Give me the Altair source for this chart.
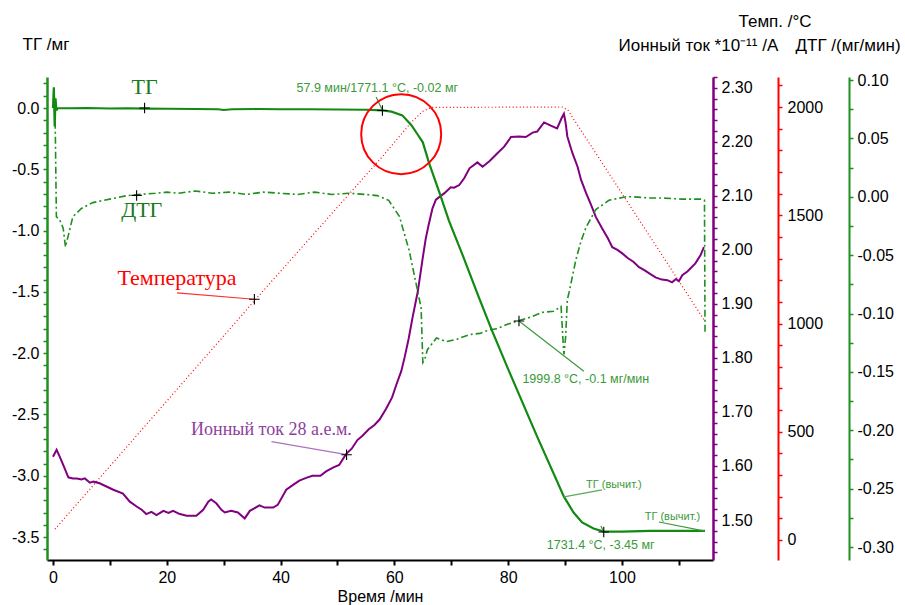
import altair as alt
import pandas as pd
import numpy as np

# ---------------- data ----------------
# TG (mg) vs time (min)
tg_time = [0.0, 0.15, 0.3, 0.45, 0.6, 0.8, 3, 6, 10, 13, 16, 20, 25, 29, 30, 31.5, 36, 40, 45, 50, 55,
           57.9, 59.5, 61.4, 63.0, 64.0, 65.0, 66.1, 68.0, 69.6, 72.0, 74.9, 77.2, 80.0, 85.0, 89.8,
           91.5, 93.0, 95.0, 96.8, 100, 105, 110, 114.6]
tg_mass = [0.0, 0.17, -0.15, 0.08, -0.02, 0.0, -0.002, 0.0, -0.004, -0.002, -0.005, -0.006, -0.008, -0.01,
           -0.016, -0.01, -0.008, -0.01, -0.01, -0.012, -0.014,
           -0.02, -0.03, -0.06, -0.14, -0.21, -0.28, -0.45, -0.70, -0.92, -1.20, -1.55, -1.82, -2.13,
           -2.67, -3.17, -3.30, -3.38, -3.43, -3.455, -3.455, -3.45, -3.45, -3.45]

# Ion current 28 a.m.u. (*10^-11 A)
ion_time = [0.0, 0.64, 1.2, 1.8, 2.7, 3.5, 4.2, 5.0, 5.6, 6.5, 7.1, 8.2, 9.4, 10.6, 12.3, 13.5, 14.7,
            15.6, 16.4, 17.3, 18.2, 19.4, 20.3, 21.1, 22.3, 23.5, 25.2, 26.4, 27.3, 27.8, 28.7, 29.6,
            30.2, 31.3, 32.5, 33.7, 34.6, 36.3, 37.2, 38.7, 39.5, 41.0, 42.2, 43.3, 44.5, 45.6, 47.0,
            48.0, 49.2, 50.3, 51.5, 52.5, 53.5, 54.4, 55.5, 56.5, 57.4, 58.5, 59.6, 60.5, 61.2, 61.8,
            62.5, 63.2, 64.1, 64.5, 65.0, 65.5, 66.0, 66.7, 67.3, 68.8, 69.9, 70.5, 71.4, 72.3, 73.2,
            74.6, 75.5, 76.7, 78.1, 79.3, 80.5, 81.9, 83.1, 84.3, 85.1, 86.3, 87.5, 88.6, 89.4, 89.8,
            90.1, 90.4, 91.3, 92.2, 92.8, 93.7, 94.5, 95.4, 96.5, 97.5, 98.3, 99.2, 100.0, 101.0, 102.0,
            103.0, 104.0, 105.0, 105.9, 107.0, 108.0, 108.8, 109.5, 110.0, 110.6, 111.5, 112.9, 113.8,
            114.4]
ion_val = [1.617, 1.630, 1.617, 1.602, 1.579, 1.577, 1.577, 1.575, 1.577, 1.569, 1.571, 1.568, 1.562,
           1.556, 1.549, 1.534, 1.525, 1.519, 1.511, 1.515, 1.509, 1.517, 1.513, 1.517, 1.511, 1.508,
           1.508, 1.519, 1.534, 1.538, 1.531, 1.519, 1.514, 1.517, 1.514, 1.503, 1.517, 1.527, 1.523,
           1.523, 1.528, 1.556, 1.565, 1.573, 1.578, 1.582, 1.582, 1.590, 1.597, 1.602, 1.622, 1.632,
           1.648, 1.656, 1.668, 1.676, 1.686, 1.705, 1.727, 1.755, 1.775, 1.801, 1.835, 1.875, 1.922,
           1.950, 1.986, 2.020, 2.045, 2.077, 2.093, 2.105, 2.116, 2.115, 2.120, 2.133, 2.151, 2.162,
           2.154, 2.164, 2.179, 2.191, 2.209, 2.210, 2.209, 2.217, 2.219, 2.236, 2.230, 2.225, 2.244,
           2.252, 2.235, 2.210, 2.179, 2.154, 2.130, 2.105, 2.085, 2.061, 2.040, 2.022, 2.005, 2.000,
           1.994, 1.985, 1.978, 1.968, 1.962, 1.955, 1.949, 1.945, 1.944, 1.940, 1.946, 1.942, 1.953,
           1.960, 1.975, 1.990, 2.005]

# Temperature (°C)
temp_time = [0.35, 35.4, 57.9, 63.0, 65.0, 66.5, 89.5, 90.5, 114.6]
temp_val = [50, 1105, 1771, 1930, 1980, 1998, 2000, 1985, 1010]

# DTG (mg/min)
dtg_time = [0.2, 0.4, 0.6, 1.2, 1.8, 2.2, 2.6, 3.5, 5, 7, 9, 11, 13, 15, 18, 20, 22, 25, 28, 31, 34,
            37, 40, 43, 46, 49, 52, 55, 57, 59, 60.9, 62.6, 63.8, 64.7, 65.0, 65.3, 65.8, 67.4, 69.1,
            71, 73.2, 75, 76.7, 78, 80, 81.9, 84, 86, 88, 89.3, 89.6, 89.8, 90.1, 90.4, 90.7, 91.9,
            92.8, 93.7, 95.4, 97.7, 100.7, 102, 104.7, 107, 110.5, 114, 114.5, 114.6]
dtg_val = [0.09, 0.06, -0.017, -0.02, -0.027, -0.043, -0.035, -0.017, -0.01, -0.005, -0.003, -0.001,
           0.001, 0.002, 0.003, 0.004, 0.003, 0.005, 0.003, 0.004, 0.002, 0.004, 0.003, 0.002, 0.004,
           0.002, 0.003, 0.002, 0.001, -0.003, -0.017, -0.046, -0.074, -0.095, -0.142, -0.14, -0.131,
           -0.121, -0.124, -0.122, -0.118, -0.117, -0.114, -0.113, -0.109, -0.106, -0.103, -0.099,
           -0.098, -0.094, -0.12, -0.135, -0.12, -0.088, -0.082, -0.054, -0.038, -0.026, -0.011,
           -0.003, 0.0, 0.0, -0.001, -0.001, -0.002, -0.002, -0.003, -0.116]

# annotations (placed in TG / time coordinates)
label_text = ["ТГ", "ДТГ", "Температура", "Ионный ток 28 а.е.м."]
label_t = [16.1, 15.6, 21.8, 38.4]
label_v = [0.175, -0.836, -1.385, -2.623]
label_color = ["#1a7a1a", "#1a7a1a", "#ff0000", "#8e3f9e"]
label_size = [22, 22, 22, 18]

note_text = ["57.9 мин/1771.1 °C, -0.02 мг", "1999.8 °C, -0.1 мг/мин", "ТГ (вычит.)",
             "ТГ (вычит.)", "1731.4 °C, -3.45 мг"]
note_t = [42.8, 82.5, 93.7, 104.0, 86.8]
note_v = [0.164, -2.213, -3.074, -3.336, -3.566]
note_size = [12.5, 12.5, 11, 11, 12.5]

lead_t = [21.8, 38.4, 56.8, 81.9, 89.8, 106.5, 96.3]
lead_v = [-1.508, -2.721, 0.09, -1.738, -3.172, -3.377, -3.41]
lead_t2 = [35.4, 51.6, 57.9, 93.3, 96.5, 114.6, 96.8]
lead_v2 = [-1.56, -2.828, -0.02, -2.148, -3.115, -3.451, -3.459]
lead_color = ["#ff3030", "#b070c0", "#3a9a3a", "#3a9a3a", "#5aaa5a", "#3a9a3a", "#3a9a3a"]

cross_t = [16.1, 14.7, 35.4, 51.6, 57.9, 81.9, 96.8]
cross_v = [0.0, -0.713, -1.56, -2.828, -0.02, -1.738, -3.459]

circle_t = [61.2]
circle_v = [-0.213]

# ---------------- chart ----------------
FONT = "Liberation Sans"
GREEN = "#128a12"
PURPLE = "#800080"
RED = "#ff0000"
DGREEN = "#1f8f1f"
TITLE_FS = 17


def clean(vals):
    return [float(round(v, 3)) + 0.0 for v in vals]


x_scale = alt.Scale(domain=[-1.05, 116.0], nice=False, zero=False)
x_axis = alt.Axis(values=list(range(0, 120, 10)),
                  labelExpr="datum.value % 20 == 0 ? datum.label : ''",
                  domainColor="black", domainWidth=2, tickColor="black", tickWidth=2, tickSize=5,
                  labelFont=FONT, labelFontSize=16, labelColor="black", labelPadding=4, grid=False,
                  titleFont=FONT, titleFontSize=16, titleFontWeight="normal", titleColor="black",
                  titleY=28, titleBaseline="top")
X = alt.X("t:Q", scale=x_scale, axis=x_axis, title="Время /мин")

tg_scale = alt.Scale(domain=[-3.687, 0.253], nice=False, zero=False)
tg_axis = alt.Axis(orient="left", values=clean(np.arange(-3.6, 0.25, 0.1)),
                   labelExpr="abs(round(datum.value*2) - datum.value*2) < 0.001 ? replace(format(datum.value, '.1f'), '\u2212', '-') : ''",
                   domainColor=DGREEN, domainWidth=2.5, tickColor=DGREEN, tickWidth=1.5, tickSize=4,
                   labelFont=FONT, labelFontSize=16, labelColor="black", labelPadding=4, grid=False,
                   titleFont=FONT, titleFontSize=TITLE_FS, titleFontWeight="normal", titleColor="black",
                   titleAngle=0, titleAlign="left", titleBaseline="middle", titleX=-25, titleY=-33)
Ytg = alt.Y("v:Q", scale=tg_scale, axis=tg_axis, title="ТГ /мг")

tg_df = pd.DataFrame({"t": tg_time, "v": tg_mass})
tg_line = alt.Chart(tg_df).mark_line(color=GREEN, strokeWidth=2.2).encode(x=X, y=Ytg)

lab_df = pd.DataFrame({"t": label_t, "v": label_v, "txt": label_text, "c": label_color, "fs": label_size})
labels = alt.Chart(lab_df).mark_text(font="Liberation Serif", align="center", baseline="middle").encode(
    x=X, y=Ytg, text="txt:N", color=alt.Color("c:N", scale=None), size=alt.Size("fs:Q", scale=None))

note_df = pd.DataFrame({"t": note_t, "v": note_v, "txt": note_text, "fs": note_size})
notes = alt.Chart(note_df).mark_text(font=FONT, align="left", baseline="middle", color="#3a9a3a").encode(
    x=X, y=Ytg, text="txt:N", size=alt.Size("fs:Q", scale=None))

lead_df = pd.DataFrame({"t": lead_t, "v": lead_v, "t2": lead_t2, "v2": lead_v2, "c": lead_color})
leads = alt.Chart(lead_df).mark_rule(strokeWidth=1.2).encode(
    x=X, y=Ytg, x2="t2:Q", y2="v2:Q", color=alt.Color("c:N", scale=None))

cross_df = pd.DataFrame({"t": cross_t, "v": cross_v})
crosses = alt.Chart(cross_df).mark_point(shape="M-1,0L1,0M0,-1L0,1", size=110, color="black",
                                         strokeWidth=1.1, filled=False, opacity=1).encode(x=X, y=Ytg)

circ_df = pd.DataFrame({"t": circle_t, "v": circle_v})
circle = alt.Chart(circ_df).mark_point(shape="circle", size=6400, color=RED, strokeWidth=2,
                                       filled=False, opacity=1).encode(x=X, y=Ytg)

tg_group = alt.layer(tg_line, leads, labels, notes, crosses, circle)

# ion current
ion_scale = alt.Scale(domain=[1.426, 2.320], nice=False, zero=False)
ion_axis = alt.Axis(orient="right", offset=0, values=clean(np.arange(1.44, 2.321, 0.02)),
                    labelExpr="abs(round(datum.value*10) - datum.value*10) < 0.001 ? format(datum.value, '.2f') : ''",
                    domainColor=PURPLE, domainWidth=2.5, tickColor=PURPLE, tickWidth=1.5, tickSize=4,
                    labelFont=FONT, labelFontSize=16, labelColor="black", labelPadding=4, grid=False,
                    titleFont=FONT, titleFontSize=TITLE_FS, titleFontWeight="normal", titleColor="black",
                    titleAngle=0, titleAlign="left", titleBaseline="middle", titleX=-95, titleY=-32)
ion_df = pd.DataFrame({"t": ion_time, "v": ion_val})
ion_line = alt.Chart(ion_df).mark_line(color=PURPLE, strokeWidth=2).encode(
    x=X, y=alt.Y("v:Q", scale=ion_scale, axis=ion_axis, title="Ионный ток *10⁻¹¹ /А"))

# temperature
temp_scale = alt.Scale(domain=[-92.4, 2138.6], nice=False, zero=False)
temp_axis = alt.Axis(orient="right", offset=65, values=list(range(0, 2101, 100)),
                     labelExpr="datum.value % 500 == 0 ? datum.label : ''", format="d",
                     domainColor=RED, domainWidth=2, tickColor=RED, tickWidth=1.5, tickSize=4,
                     labelFont=FONT, labelFontSize=16, labelColor="black", labelPadding=5, grid=False,
                     titleFont=FONT, titleFontSize=TITLE_FS, titleFontWeight="normal", titleColor="black",
                     titleAngle=0, titleAlign="left", titleBaseline="middle", titleX=-40, titleY=-56)
temp_df = pd.DataFrame({"t": temp_time, "v": temp_val})
temp_line = alt.Chart(temp_df).mark_line(color=RED, strokeWidth=1.2, strokeDash=[1, 2.5]).encode(
    x=X, y=alt.Y("v:Q", scale=temp_scale, axis=temp_axis, title="Темп. /°C"))

# DTG
dtg_scale = alt.Scale(domain=[-0.3111, 0.1026], nice=False, zero=False)
dtg_axis = alt.Axis(orient="right", offset=136, values=clean(np.arange(-0.3, 0.101, 0.025)),
                    labelExpr="abs(round(datum.value*20) - datum.value*20) < 0.001 ? replace(format(datum.value, '.2f'), '\u2212', '-') : ''",
                    domainColor=DGREEN, domainWidth=2, tickColor=DGREEN, tickWidth=1.5, tickSize=4,
                    labelFont=FONT, labelFontSize=16, labelColor="black", labelPadding=4, grid=False,
                    titleFont=FONT, titleFontSize=TITLE_FS, titleFontWeight="normal", titleColor="black",
                    titleAngle=0, titleAlign="left", titleBaseline="middle", titleX=-54, titleY=-32)
dtg_df = pd.DataFrame({"t": dtg_time, "v": dtg_val})
dtg_line = alt.Chart(dtg_df).mark_line(color=DGREEN, strokeWidth=1.6, strokeDash=[7, 3, 2, 3]).encode(
    x=X, y=alt.Y("v:Q", scale=dtg_scale, axis=dtg_axis, title="ДТГ /(мг/мин)"))

chart = alt.layer(temp_line, ion_line, dtg_line, tg_group).resolve_scale(y="independent").properties(
    width=666, height=483, autosize="none",
    padding={"left": 47, "top": 77, "right": 192, "bottom": 45},
    background="white",
).configure_view(stroke=None)

chart.save("out.html", embed_options={"renderer": "svg", "actions": False})
